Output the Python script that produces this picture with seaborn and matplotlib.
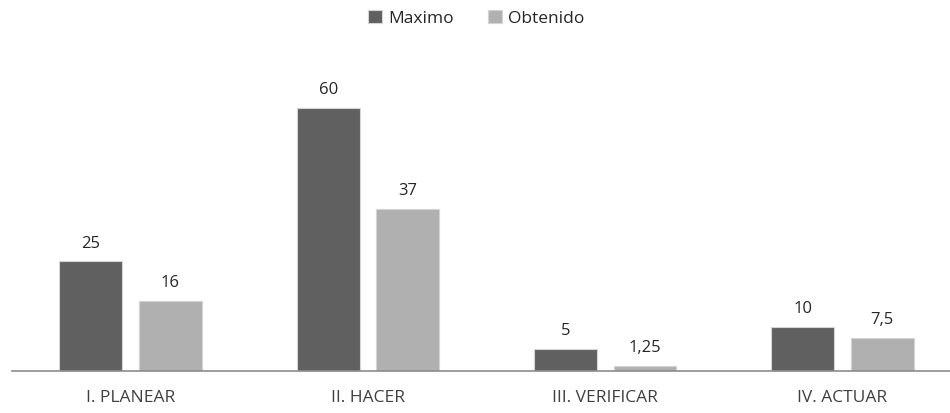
import matplotlib
matplotlib.use('Agg')
import matplotlib.pyplot as plt
import seaborn as sns
import pandas as pd

categorias = ['I. PLANEAR', 'II. HACER', 'III. VERIFICAR', 'IV. ACTUAR']
maximo = [25, 60, 5, 10]
obtenido = [16, 37, 1.25, 7.5]
series = ['Maximo', 'Obtenido']
colores = ['#606060', '#b0b0b0']

df = pd.DataFrame({
    'categoria': categorias * 2,
    'valor': maximo + obtenido,
    'serie': [series[0]] * len(categorias) + [series[1]] * len(categorias),
})

sns.set_style('white')
plt.rcParams['font.family'] = ['Open Sans', 'DejaVu Sans']

fig = plt.figure(figsize=(9.5, 4.13), dpi=100)
ax = fig.add_axes([12 / 950, 42 / 413, 938 / 950, 300 / 413])

sns.barplot(data=df, x='categoria', y='valor', hue='serie', palette=colores,
            width=0.67, gap=0.21, edgecolor='#d4d4d4', linewidth=0.8,
            errorbar=None, ax=ax)

def fmt(v):
    return ('%g' % v).replace('.', ',')

for cont in ax.containers:
    ax.bar_label(cont, labels=[fmt(b.get_height()) for b in cont],
                 padding=7, fontsize=12, color='#262626')

ax.set_xlim(-0.5, 3.453)
ax.set_ylim(0, 300 / 4.383)
ax.set_xlabel('')
ax.set_ylabel('')
ax.set_yticks([])
for s in ['top', 'right', 'left']:
    ax.spines[s].set_visible(False)
ax.spines['bottom'].set_color('#8c8c8c')
ax.spines['bottom'].set_linewidth(1.2)
ax.tick_params(axis='x', length=0, pad=14, labelsize=12.5, labelcolor='#404040')

ax.legend(loc='upper center', bbox_to_anchor=(0.495, 1.255), ncol=2, frameon=False,
          fontsize=12.5, handlelength=0.8, handleheight=0.8, handletextpad=0.35,
          columnspacing=2.0, labelcolor='#262626')

fig.savefig('out.png', dpi=100)
